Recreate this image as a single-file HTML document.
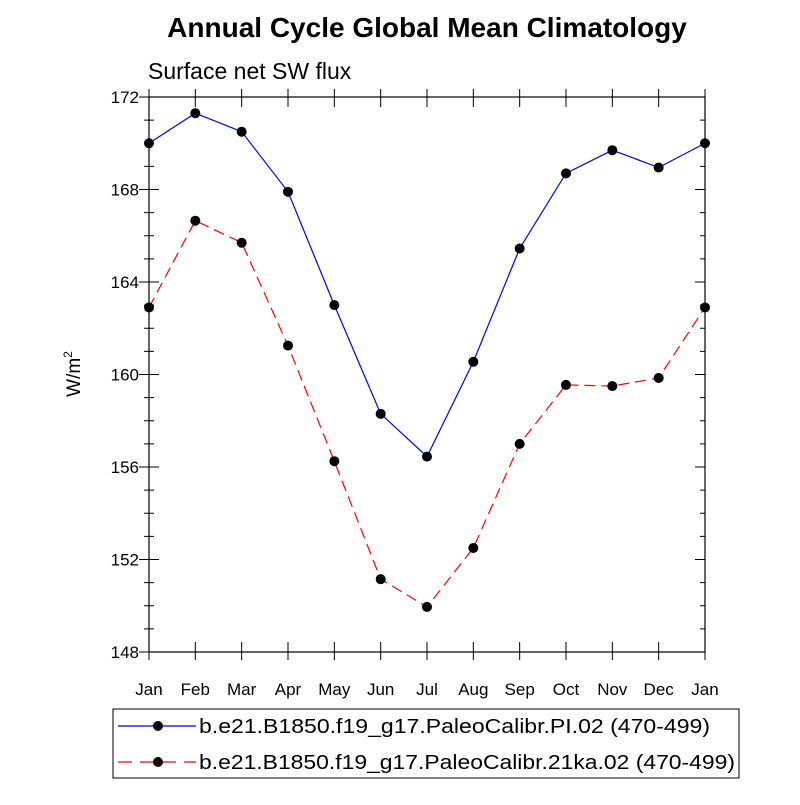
<!DOCTYPE html>
<html><head><meta charset="utf-8"><style>
body{margin:0;background:#fff;}
svg text{font-family:"Liberation Sans",sans-serif;fill:#000;}
</style></head><body>
<svg id="chart" width="800" height="800" viewBox="0 0 800 800" xmlns="http://www.w3.org/2000/svg">
<rect width="800" height="800" fill="#fff"/>
<text x="427" y="37" font-size="28" font-weight="bold" text-anchor="middle">Annual Cycle Global Mean Climatology</text>
<text x="148" y="79" font-size="23">Surface net SW flux</text>
<g id="axes"></g>
<g id="series"></g>
<g id="legend"></g>
</svg>
<script>
const months = ["Jan","Feb","Mar","Apr","May","Jun","Jul","Aug","Sep","Oct","Nov","Dec","Jan"];
const piValues = [170.0,171.3,170.5,167.9,163.0,158.3,156.45,160.55,165.45,168.7,169.7,168.95,170.0];
const lgmValues = [162.9,166.65,165.7,161.25,156.25,151.15,149.95,152.5,157.0,159.55,159.5,159.85,162.9];
const yTicks = [148,152,156,160,164,168,172];
const legendLabels = ["b.e21.B1850.f19_g17.PaleoCalibr.PI.02 (470-499)","b.e21.B1850.f19_g17.PaleoCalibr.21ka.02 (470-499)"];

const NS="http://www.w3.org/2000/svg";
const L=149,R=705,T=97,B=652,yMin=148,yMax=172;
const xs=i=>L+(R-L)*i/(months.length-1);
const ys=v=>B-(B-T)*(v-yMin)/(yMax-yMin);
function mk(tag,attrs,parent){const e=document.createElementNS(NS,tag);for(const k in attrs)e.setAttribute(k,attrs[k]);parent.appendChild(e);return e;}
const axes=document.getElementById('axes');
const frame=mk('rect',{x:L,y:T,width:R-L,height:B-T,fill:'none',stroke:'#000','stroke-width':1.2},axes);


for(let v=yMin;v<=yMax;v++){
  const major=(v-yMin)%4===0;const len=major?10:5;const y=ys(v);
  mk('line',{x1:L,x2:L+len,y1:y,y2:y,stroke:'#000'},axes);
  mk('line',{x1:R,x2:R-len,y1:y,y2:y,stroke:'#000'},axes);
  mk('line',{x1:L,x2:L-len,y1:y,y2:y,stroke:'#000'},axes);
}
yTicks.forEach(v=>{
  const t=mk('text',{x:L-10,y:ys(v)+6,'font-size':17,'text-anchor':'end'},axes);
  t.textContent=v;
  
  
});
months.forEach((m,i)=>{
  const x=xs(i);
  mk('line',{x1:x,x2:x,y1:B,y2:B-10,stroke:'#000'},axes);
  mk('line',{x1:x,x2:x,y1:B,y2:B+8,stroke:'#000'},axes);
  mk('line',{x1:x,x2:x,y1:T,y2:T+10,stroke:'#000'},axes);
  mk('line',{x1:x,x2:x,y1:T,y2:T-8,stroke:'#000'},axes);
  const t=mk('text',{x:x,y:B+43,'font-size':17,'text-anchor':'middle'},axes);
  t.textContent=m;
  
  
});
const yt=mk('text',{transform:'translate(80,374) rotate(-90)','font-size':19,'text-anchor':'middle'},axes);
yt.innerHTML='W/m<tspan dy="-8" font-size="12">2</tspan>';



const ser=document.getElementById('series');
function drawSeries(vals,color,dash,name){
  const g=mk('g',{},ser);
  
  
  const pts=vals.map((v,i)=>xs(i)+','+ys(v)).join(' ');
  const pl=mk('polyline',{points:pts,fill:'none',stroke:color,'stroke-width':1.2,'stroke-dasharray':dash},g);
  
  
  vals.forEach((v,i)=>{
    const c=mk('circle',{cx:xs(i),cy:ys(v),r:5,fill:'#000'},g);
    
    
  });
}
drawSeries(piValues,'#0000ff','none','series-pi');
drawSeries(lgmValues,'#ff0000','11,6','series-21ka');

const lg=document.getElementById('legend');
const box=mk('rect',{x:113,y:709,width:626,height:69,fill:'#fff',stroke:'#000','stroke-width':1},lg);


[['#0000ff','none',726],['#ff0000','14,8',762]].forEach((s,i)=>{
  const g=mk('g',{},lg);
  
  
  mk('line',{x1:118,x2:196,y1:s[2],y2:s[2],stroke:s[0],'stroke-width':1.2,'stroke-dasharray':s[1]},g);
  mk('circle',{cx:158,cy:s[2],r:5,fill:'#000'},g);
  const t=mk('text',{x:199,y:s[2]+7,'font-size':20.5,textLength:i?536:511,lengthAdjust:'spacingAndGlyphs'},g);
  t.textContent=legendLabels[i];
});
</script>
</body></html>
